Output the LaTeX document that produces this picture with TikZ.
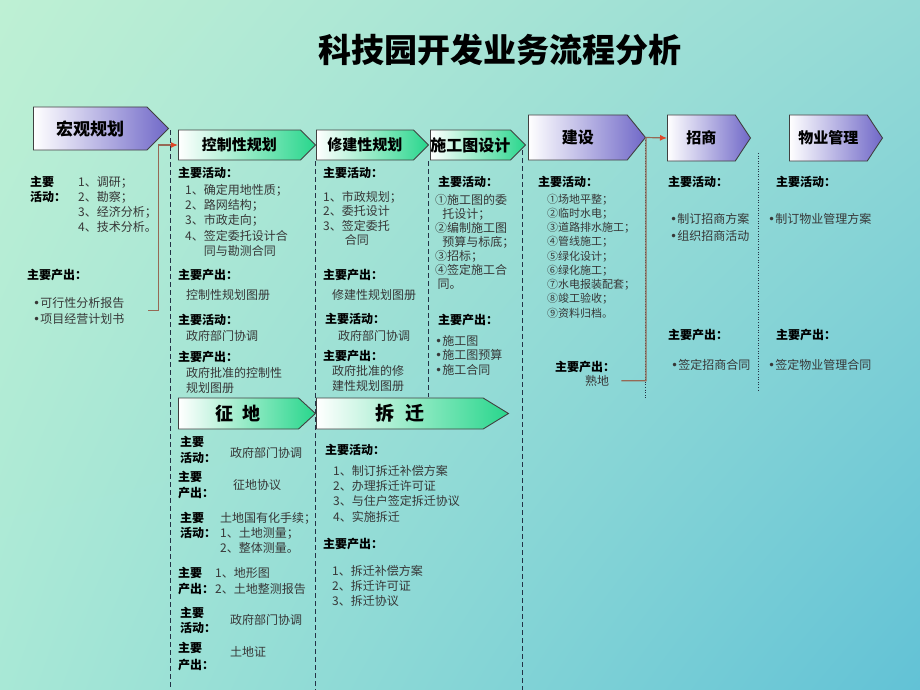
\documentclass[tikz,border=0pt]{standalone}
\usepackage{fontspec}
\setmainfont{Noto Sans CJK SC}
\newfontfamily\dotfont{DejaVu Sans}
\newcommand{\bul}{{\dotfont •}}
\usetikzlibrary{shapes.symbols,arrows.meta,shadings}

\definecolor{bgtl}{RGB}{190,240,212}
\definecolor{bgtr}{RGB}{148,218,214}
\definecolor{bgbl}{RGB}{168,232,214}
\definecolor{bgbr}{RGB}{98,194,214}
\definecolor{txtgray}{RGB}{55,55,55}
\definecolor{purp}{RGB}{112,104,200}
\definecolor{grn}{RGB}{40,214,140}
\definecolor{connbrown}{RGB}{150,105,85}
\definecolor{arrred}{RGB}{222,70,40}
\definecolor{sepline}{RGB}{35,50,70}

\tikzset{
  phase/.style={signal, signal to=east, anchor=west, draw=black!75, line width=0.9pt, inner sep=0pt, text=black},
  phasep/.style={phase, left color=white, right color=purp},
  phaseg/.style={phase, left color=white, middle color=white!55!grn, right color=grn},
  txt/.style={anchor=north west, inner sep=0pt, align=left, text=txtgray, font=\fontsize{12}{15.3}\selectfont},
  lbl/.style={txt, text=black, font=\bfseries\fontsize{12}{15.3}\selectfont},
  colsep/.style={sepline, line width=0.8pt, dash pattern=on 5pt off 3pt},
  coldot/.style={sepline, line width=0.8pt, dash pattern=on 1pt off 1.6pt},
  conn/.style={connbrown, line width=1.2pt, -{Latex[length=7pt,width=6pt,color=arrred]}}
}

\begin{document}
\begin{tikzpicture}[x=1pt, y=-1pt]
    \useasboundingbox (0,0) rectangle (920,690);
    \shade[upper left=bgtl, upper right=bgtr, lower left=bgbl, lower right=bgbr] (0,0) rectangle (920,690);

    \node[font=\bfseries\fontsize{33}{33}\selectfont] (title) at (500,50) {科技园开发业务流程分析};

    \draw[colsep] (170,130) -- (170,690);
    \draw[colsep] (315,161) -- (315,690);
    \draw[colsep] (428,161) -- (428,397);
    \draw[colsep] (522,150) -- (522,690);
    \draw[coldot] (645,140) -- (645,400);
    \draw[coldot] (758,153) -- (758,390);

    \node[phasep, minimum width=135pt, minimum height=43pt, font=\bfseries\fontsize{17}{17}\selectfont] (hg) at (33,128.5) {宏观规划};
    \node[phaseg, minimum width=137pt, minimum height=30pt, font=\bfseries\fontsize{15}{15}\selectfont] (kz) at (178,145) {控制性规划};
    \node[phaseg, minimum width=112pt, minimum height=30pt, font=\bfseries\fontsize{15}{15}\selectfont] (xj) at (316,145) {修建性规划};
    \node[phaseg, minimum width=92pt, minimum height=30pt, font=\bfseries\fontsize{16}{16}\selectfont] (sg) at (430,145) {施工图设计};
    \node[phasep, minimum width=117pt, minimum height=45pt, signal pointer angle=102, font=\bfseries\fontsize{16}{16}\selectfont] (js) at (528,137.5) {建设};
    \node[phasep, minimum width=83pt, minimum height=46pt, signal pointer angle=113, font=\bfseries\fontsize{15}{15}\selectfont] (zs) at (667,138) {招商};
    \node[phasep, minimum width=93pt, minimum height=46pt, signal pointer angle=113, font=\bfseries\fontsize{15}{15}\selectfont] (wy) at (789,138) {物业管理};
    \node[phaseg, minimum width=137pt, minimum height=31pt, signal pointer angle=85, font=\bfseries\fontsize{18}{18}\selectfont] (zd) at (178,413.5) {征\hspace{0.5em}地};
    \node[phaseg, minimum width=192pt, minimum height=31pt, signal pointer angle=63, font=\bfseries\fontsize{19}{19}\selectfont] (cq) at (316,413.5) {拆\hspace{0.6em}迁};

    \node[lbl] (hgactl) at (30,176) {主要\\活动：};
    \node[txt] (hgact) at (78,176) {1、调研；\\2、勘察；\\3、经济分析；\\4、技术分析。};
    \node[lbl] (hgoutl) at (27,269) {主要产出：};
    \node[txt, font=\fontsize{12}{16}\selectfont] (hgout) at (33,297) {\bul 可行性分析报告\\\bul 项目经营计划书};

    \node[lbl] (kzactl) at (178,167) {主要活动：};
    \node[txt] (kzact) at (185,184) {1、确定用地性质；\\2、路网结构；\\3、市政走向；\\4、签定委托设计合\\\phantom{1、}同与勘测合同};
    \node[lbl] (kzoutl) at (178,269) {主要产出：};
    \node[txt] (kzout) at (186,289) {控制性规划图册};
    \node[lbl] (kzgovl) at (178,314) {主要活动：};
    \node[txt] (kzgov) at (186,330) {政府部门协调};
    \node[lbl] (kzfinl) at (178,351) {主要产出：};
    \node[txt] (kzfin) at (186,367) {政府批准的控制性\\规划图册};

    \node[lbl] (xjactl) at (323,167) {主要活动：};
    \node[txt, font=\fontsize{12}{14.5}\selectfont] (xjact) at (323,191) {1、市政规划；\\2、委托设计\\3、签定委托\\\hspace{1.8em}合同};
    \node[lbl] (xjoutl) at (323,269) {主要产出：};
    \node[txt] (xjout) at (332,289) {修建性规划图册};
    \node[lbl] (xjgovl) at (325,313) {主要活动：};
    \node[txt] (xjgov) at (338,330) {政府部门协调};
    \node[lbl] (xjfinl) at (323,350) {主要产出：};
    \node[txt, font=\fontsize{12}{15.5}\selectfont] (xjfin) at (332,365) {政府批准的修\\建性规划图册};

    \node[lbl] (sgactl) at (438,176) {主要活动：};
    \node[txt, font=\fontsize{12}{14}\selectfont] (sgact) at (435,194) {①施工图的委\\\hspace{0.6em}托设计；\\②编制施工图\\\hspace{0.6em}预算与标底；\\③招标；\\④签定施工合\\\hspace{0.2em}同。};
    \node[lbl] (sgoutl) at (438,314) {主要产出：};
    \node[txt, font=\fontsize{12}{14.5}\selectfont] (sgout) at (435,335) {\bul 施工图\\\bul 施工图预算\\\bul 施工合同};

    \node[lbl] (jsactl) at (538,176) {主要活动：};
    \node[txt, font=\fontsize{11}{14.25}\selectfont] (jsact) at (547,193.5) {①场地平整；\\②临时水电；\\③道路排水施工；\\④管线施工；\\⑤绿化设计；\\⑥绿化施工；\\⑦水电报装配套；\\⑧竣工验收；\\⑨资料归档。};
    \node[lbl] (jsoutl) at (555,361) {主要产出：};
    \node[txt] (shudi) at (585,375) {熟地};

    \node[lbl] (zsactl) at (668,176) {主要活动：};
    \node[txt, font=\fontsize{12}{17}\selectfont] (zsact) at (670,213) {\bul 制订招商方案\\\bul 组织招商活动};
    \node[lbl] (zsoutl) at (668,329) {主要产出：};
    \node[txt] (zsout) at (671,359) {\bul 签定招商合同};

    \node[lbl] (wyactl) at (776,176) {主要活动：};
    \node[txt] (wyact) at (768,213) {\bul 制订物业管理方案};
    \node[lbl] (wyoutl) at (776,329) {主要产出：};
    \node[txt] (wyout) at (768,359) {\bul 签定物业管理合同};

    \node[lbl, font=\bfseries\fontsize{12}{16}\selectfont] (zdl1) at (180,436) {主要\\活动：};
    \node[txt] (zd1) at (230,447) {政府部门协调};
    \node[lbl, font=\bfseries\fontsize{12}{16}\selectfont] (zdl2) at (178,471) {主要\\产出：};
    \node[txt] (zd2) at (233,479) {征地协议};
    \node[lbl, font=\bfseries\fontsize{12}{15}\selectfont] (zdl3) at (180,512) {主要\\活动：};
    \node[txt, font=\fontsize{12}{15}\selectfont] (zd3) at (220,512) {土地国有化手续；\\1、土地测量；\\2、整体测量。};
    \node[lbl, font=\bfseries\fontsize{12}{16}\selectfont] (zdl4) at (178,567) {主要\\产出：};
    \node[txt, font=\fontsize{12}{16}\selectfont] (zd4) at (215,567) {1、地形图\\2、土地整测报告};
    \node[lbl, font=\bfseries\fontsize{12}{15}\selectfont] (zdl5) at (180,607) {主要\\活动：};
    \node[txt] (zd5) at (230,614) {政府部门协调};
    \node[lbl, font=\bfseries\fontsize{12}{17}\selectfont] (zdl6) at (178,642) {主要\\产出：};
    \node[txt] (zd6) at (230,646) {土地证};

    \node[lbl] (cqactl) at (325,444) {主要活动：};
    \node[txt] (cqact) at (333,465) {1、制订拆迁补偿方案\\2、办理拆迁许可证\\3、与住户签定拆迁协议\\4、实施拆迁};
    \node[lbl] (cqoutl) at (323,538) {主要产出：};
    \node[txt, font=\fontsize{12}{15}\selectfont] (cqout) at (332,565) {1、拆迁补偿方案\\2、拆迁许可证\\3、拆迁协议};

    \draw[conn] ([xshift=24pt]hgout.east) -- ++(10,0) |- (kz.west);
    \draw[conn] ([xshift=12pt]shudi.east) -- (shudi.east -| js.east) -- (js.east) -- (zs.west);
\end{tikzpicture}
\end{document}
